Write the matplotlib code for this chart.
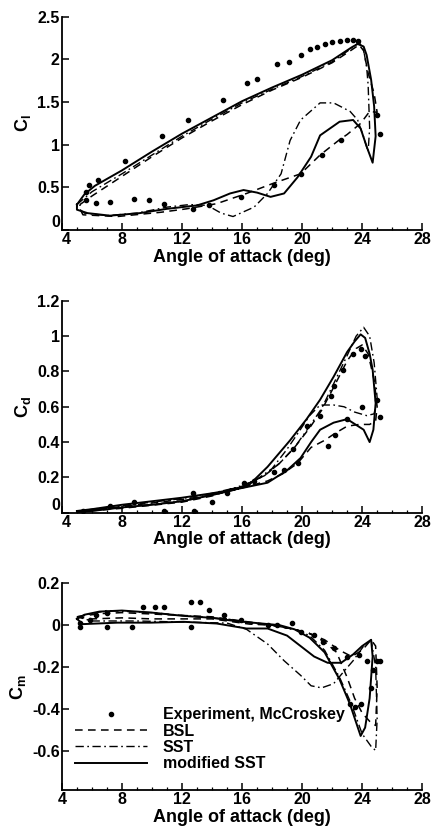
import numpy as np
import matplotlib
matplotlib.use('Agg')
import matplotlib.pyplot as plt
from matplotlib.ticker import MultipleLocator, FuncFormatter

plt.rcParams['font.family'] = ['Liberation Sans', 'DejaVu Sans']
plt.rcParams['font.weight'] = 'bold'
plt.rcParams['mathtext.fontset'] = 'custom'
plt.rcParams['mathtext.rm'] = 'Liberation Sans:bold'
plt.rcParams['mathtext.bf'] = 'Liberation Sans:bold'
plt.rcParams['mathtext.it'] = 'Liberation Sans:bold'

# ---- lift coefficient ----
exp_cl_a = [5.6, 5.8, 6.4, 8.2, 10.7, 12.4, 14.7, 16.3, 17.0, 18.3, 19.1, 19.9, 20.5, 21.0, 21.5, 22.0, 22.5,
            23.0, 23.4, 23.7, 25.0, 25.2, 22.6, 21.3, 19.9, 18.1, 15.9, 13.8, 12.7, 10.8, 9.8, 8.8, 7.2, 6.3, 5.6]
exp_cl = [0.45, 0.53, 0.59, 0.81, 1.10, 1.29, 1.52, 1.72, 1.77, 1.95, 1.97, 2.05, 2.12, 2.15, 2.18, 2.20, 2.21,
          2.23, 2.23, 2.22, 1.35, 1.13, 1.05, 0.88, 0.66, 0.53, 0.39, 0.29, 0.25, 0.31, 0.35, 0.36, 0.33, 0.32, 0.35]

bsl_cl_a = [5.2, 6.0, 8.0, 10.0, 12.0, 14.0, 16.0, 18.0, 20.0, 22.0, 23.3, 23.8, 24.1, 24.4, 24.8, 25.0, 24.5,
            23.9, 23.0, 22.5, 21.2, 19.9, 18.1, 16.3, 14.3, 12.3, 10.6, 7.7, 5.4, 5.2, 5.2]
bsl_cl = [0.30, 0.40, 0.63, 0.86, 1.08, 1.28, 1.47, 1.64, 1.79, 1.96, 2.11, 2.17, 2.10, 1.84, 1.60, 1.38, 1.39,
          1.25, 1.12, 1.06, 0.88, 0.66, 0.55, 0.43, 0.31, 0.25, 0.21, 0.16, 0.18, 0.25, 0.30]

sst_cl_a = [5.0, 6.0, 8.0, 10.0, 12.0, 14.0, 16.0, 18.0, 20.0, 22.0, 23.3, 23.8, 24.1, 24.3, 24.4, 24.5, 24.4,
            24.1, 23.7, 23.2, 22.1, 21.2, 19.9, 19.2, 18.6, 17.7, 16.8, 15.4, 14.6, 13.7, 12.5, 11.0, 9.0, 7.0, 5.5, 5.0, 5.0]
sst_cl = [0.30, 0.45, 0.66, 0.88, 1.10, 1.30, 1.49, 1.65, 1.80, 1.97, 2.13, 2.20, 2.11, 1.91, 1.70, 1.20, 0.92,
          1.09, 1.29, 1.39, 1.49, 1.49, 1.29, 1.05, 0.66, 0.43, 0.27, 0.16, 0.20, 0.29, 0.30, 0.27, 0.20, 0.17, 0.20, 0.27, 0.30]

msst_cl_a = [5.0, 5.5, 6.2, 7.2, 8.0, 10.0, 12.0, 14.0, 16.0, 18.0, 20.0, 22.0, 23.3, 23.7, 24.1, 24.3, 24.6,
             24.8, 24.9, 24.7, 24.3, 23.9, 23.4, 22.5, 21.2, 20.6, 19.7, 18.8, 17.9, 17.0, 16.1, 15.2, 14.1, 13.0,
             11.0, 9.2, 7.2, 5.7, 5.0, 5.0]
msst_cl = [0.30, 0.42, 0.52, 0.62, 0.70, 0.92, 1.13, 1.32, 1.51, 1.67, 1.82, 1.99, 2.14, 2.18, 2.15, 2.05, 1.76,
           1.45, 1.10, 0.79, 0.98, 1.19, 1.29, 1.27, 1.11, 0.86, 0.62, 0.43, 0.39, 0.44, 0.47, 0.43, 0.35, 0.29,
           0.25, 0.20, 0.17, 0.20, 0.24, 0.30]

# ---- drag coefficient ----
exp_cd_a = [5.4, 7.2, 8.8, 10.8, 12.7, 12.8, 14.0, 15.0, 16.1, 16.8, 18.1, 19.4, 20.3, 21.2, 21.9, 22.1, 22.7,
            23.4, 23.9, 24.2, 25.0, 25.2, 24.0, 23.0, 22.2, 21.7, 19.7, 18.8]
exp_cd = [0.01, 0.04, 0.06, 0.01, 0.11, 0.01, 0.06, 0.11, 0.17, 0.18, 0.23, 0.36, 0.49, 0.55, 0.66, 0.72, 0.81,
          0.90, 0.93, 0.89, 0.64, 0.54, 0.60, 0.53, 0.44, 0.38, 0.28, 0.24]

bsl_cd_a = [5.0, 8.0, 12.0, 14.0, 16.0, 17.5, 18.5, 19.5, 20.5, 21.3, 22.1, 23.0, 23.6, 24.0, 24.4, 24.8, 25.0,
            24.9, 24.5, 23.8, 23.0, 22.2, 21.5, 20.6, 19.7, 18.7, 17.7, 16.0, 14.0, 12.0, 10.0, 8.0, 6.0, 5.0]
bsl_cd = [0.005, 0.025, 0.06, 0.095, 0.15, 0.21, 0.28, 0.37, 0.48, 0.58, 0.71, 0.86, 0.93, 0.95, 0.90, 0.75, 0.60,
          0.52, 0.50, 0.50, 0.49, 0.45, 0.41, 0.37, 0.28, 0.22, 0.18, 0.14, 0.10, 0.075, 0.055, 0.035, 0.015, 0.005]

sst_cd_a = [5.0, 8.0, 12.0, 14.0, 15.5, 16.5, 17.5, 18.5, 19.5, 20.5, 21.3, 22.1, 23.0, 23.6, 24.1, 24.5, 24.8,
            25.0, 24.8, 24.3, 23.5, 22.8, 22.1, 21.2, 20.5, 19.8, 19.0, 18.0, 17.0, 16.0, 14.0, 12.0, 10.0, 8.0, 6.0, 5.0]
sst_cd = [0.005, 0.03, 0.065, 0.10, 0.14, 0.17, 0.21, 0.28, 0.37, 0.49, 0.59, 0.73, 0.89, 1.00, 1.05, 1.00, 0.85,
          0.65, 0.56, 0.55, 0.57, 0.60, 0.61, 0.61, 0.55, 0.46, 0.36, 0.25, 0.19, 0.15, 0.11, 0.08, 0.06, 0.04, 0.02, 0.005]

msst_cd_a = [5.0, 6.0, 8.0, 10.0, 12.0, 14.0, 15.5, 16.5, 17.7, 19.2, 20.3, 21.2, 22.1, 23.0, 23.5, 23.9, 24.2,
             24.5, 24.7, 24.9, 24.75, 24.5, 24.1, 23.0, 22.1, 21.2, 20.6, 19.9, 19.0, 17.7, 16.0, 14.0, 12.0, 10.0,
             8.0, 6.0, 5.0]
msst_cd = [0.005, 0.01, 0.03, 0.045, 0.065, 0.10, 0.13, 0.16, 0.26, 0.41, 0.53, 0.64, 0.77, 0.91, 0.97, 1.01, 0.99,
           0.90, 0.81, 0.62, 0.47, 0.40, 0.47, 0.53, 0.51, 0.47, 0.40, 0.31, 0.24, 0.17, 0.14, 0.11, 0.085, 0.065,
           0.045, 0.02, 0.01]

# ---- moment coefficient ----
exp_cm_a = [5.2, 5.2, 5.9, 6.3, 7.0, 7.0, 8.7, 9.4, 10.2, 10.8, 12.6, 13.2, 13.8, 12.6, 14.8, 15.9, 17.7, 18.3,
            19.3, 19.9, 20.8, 21.4, 22.1, 23.0, 23.8, 24.3, 25.0, 25.2, 24.7, 24.6, 23.9, 23.2, 23.5]
exp_cm = [-0.008, 0.008, 0.024, 0.048, 0.056, -0.008, -0.008, 0.088, 0.088, 0.088, 0.112, 0.112, 0.072, -0.008,
          0.048, 0.024, 0.0, 0.0, 0.008, -0.032, -0.048, -0.08, -0.11, -0.15, -0.144, -0.17, -0.17, -0.17, -0.216,
          -0.30, -0.376, -0.376, -0.39]

bsl_cm_a = [5.0, 6.5, 8.0, 11.0, 14.0, 16.0, 18.0, 19.5, 20.5, 21.5, 22.3, 23.0, 23.5, 24.0, 24.5, 24.9, 25.0,
            24.9, 24.6, 24.0, 23.3, 22.5, 21.5, 20.5, 19.5, 18.0, 16.5, 14.0, 12.0, 10.0, 8.0, 6.0, 5.0]
bsl_cm = [0.04, 0.055, 0.06, 0.05, 0.04, 0.02, 0.0, -0.02, -0.04, -0.08, -0.13, -0.25, -0.35, -0.42, -0.46, -0.48,
          -0.30, -0.10, -0.07, -0.12, -0.15, -0.12, -0.07, -0.04, -0.02, 0.0, 0.005, 0.03, 0.03, 0.03, 0.035, 0.03, 0.04]

sst_cm_a = [5.0, 7.0, 10.0, 13.0, 15.0, 16.5, 18.0, 19.5, 20.5, 21.5, 22.5, 23.3, 24.0, 24.6, 24.9, 25.0, 24.9,
            24.6, 24.1, 23.4, 22.8, 22.1, 21.3, 20.6, 19.9, 18.8, 17.7, 16.3, 15.0, 12.0, 9.0, 6.0, 5.0]
sst_cm = [0.04, 0.07, 0.06, 0.04, 0.03, 0.01, 0.0, -0.02, -0.05, -0.12, -0.25, -0.38, -0.52, -0.58, -0.60, -0.45,
          -0.20, -0.07, -0.10, -0.17, -0.22, -0.28, -0.30, -0.29, -0.24, -0.17, -0.09, -0.02, 0.01, 0.015, 0.02, 0.02, 0.04]

msst_cm_a = [5.0, 5.5, 6.5, 8.0, 10.0, 12.0, 14.0, 15.5, 17.0, 18.5, 19.5, 20.5, 21.5, 22.5, 23.2, 23.9, 24.2,
             24.5, 24.7, 24.6, 24.0, 23.4, 22.6, 21.7, 20.8, 19.9, 19.0, 17.7, 16.3, 14.3, 12.1, 9.9, 7.7, 5.4, 5.0]
msst_cm = [0.03, 0.05, 0.065, 0.07, 0.06, 0.045, 0.035, 0.02, 0.01, 0.0, -0.02, -0.06, -0.13, -0.26, -0.38, -0.53,
           -0.49, -0.35, -0.15, -0.07, -0.10, -0.14, -0.18, -0.18, -0.15, -0.10, -0.05, -0.016, -0.016, 0.008,
           0.016, 0.012, 0.012, 0.005, 0.03]

labels = ['Experiment, McCroskey', 'BSL', 'SST', 'modified SST']
x_ticks = [4, 8, 12, 16, 20, 24, 28]
cl_ticks = [0, 0.5, 1, 1.5, 2, 2.5]
cd_ticks = [0, 0.2, 0.4, 0.6, 0.8, 1, 1.2]
cm_ticks = [-0.6, -0.4, -0.2, 0, 0.2]

fig = plt.figure(figsize=(4.33, 8.31), dpi=100)

panels = [
    ([0.143, 0.723, 0.832, 0.257], (0, 2.5), cl_ticks, r'$\mathbf{C_l}$',
     (exp_cl_a, exp_cl), (bsl_cl_a, bsl_cl), (sst_cl_a, sst_cl), (msst_cl_a, msst_cl)),
    ([0.143, 0.383, 0.832, 0.255], (0, 1.2), cd_ticks, r'$\mathbf{C_d}$',
     (exp_cd_a, exp_cd), (bsl_cd_a, bsl_cd), (sst_cd_a, sst_cd), (msst_cd_a, msst_cd)),
    ([0.143, 0.049, 0.832, 0.249], (-0.79, 0.2), cm_ticks, r'$\mathbf{C_m}$',
     (exp_cm_a, exp_cm), (bsl_cm_a, bsl_cm), (sst_cm_a, sst_cm), (msst_cm_a, msst_cm)),
]

fmt = FuncFormatter(lambda v, p: ('%g' % round(v, 3)) if abs(v) > 1e-9 else '0')

for k, (pos, ylim, yticks, ylab, ex, bs, ss, ms) in enumerate(panels):
    ax = fig.add_axes(pos)
    ax.plot(ex[0], ex[1], 'o', color='black', markersize=3.0, label=labels[0])
    ax.plot(bs[0], bs[1], color='black', lw=1.1, dashes=(5, 3.5), label=labels[1])
    ax.plot(ss[0], ss[1], color='black', lw=1.0, dashes=(6, 2.5, 1.2, 2.5), label=labels[2])
    ax.plot(ms[0], ms[1], color='black', lw=1.4, label=labels[3])

    ax.set_xlim(4, 28)
    ax.set_ylim(*ylim)
    ax.set_xticks(x_ticks)
    ax.xaxis.set_minor_locator(MultipleLocator(1))
    ax.set_yticks(yticks)
    ax.yaxis.set_major_formatter(fmt)
    ax.xaxis.set_major_formatter(fmt)
    for s in ['top', 'right']:
        ax.spines[s].set_visible(False)
    for s in ['left', 'bottom']:
        ax.spines[s].set_linewidth(1.3)
    ax.tick_params(which='major', direction='in', length=5, width=1.1, labelsize=11.5, pad=1.5)
    ax.tick_params(which='minor', direction='in', length=2.5, width=0.9)
    for t in ax.get_xticklabels() + ax.get_yticklabels():
        t.set_fontweight('bold')
    ax.set_xlabel('Angle of attack (deg)', fontsize=13, fontweight='bold', labelpad=1)
    ax.set_ylabel(ylab, fontsize=13, labelpad=3)

    if k < 2:
        # the "0" at the corner sits a little above the x axis, clear of the "4"
        ax.yaxis.get_major_ticks()[0].label1.set_va('bottom')
        ax.xaxis.get_major_ticks()[0].label1.set_ha('left')

    if k == 2:
        ax.legend(loc='lower left', bbox_to_anchor=(0.0, 0.03), frameon=False, numpoints=1,
                  handlelength=4.5, handletextpad=1.0, labelspacing=0.08, borderpad=0.3,
                  prop={'weight': 'bold', 'size': 11.5})

fig.savefig('out.png', dpi=100)
